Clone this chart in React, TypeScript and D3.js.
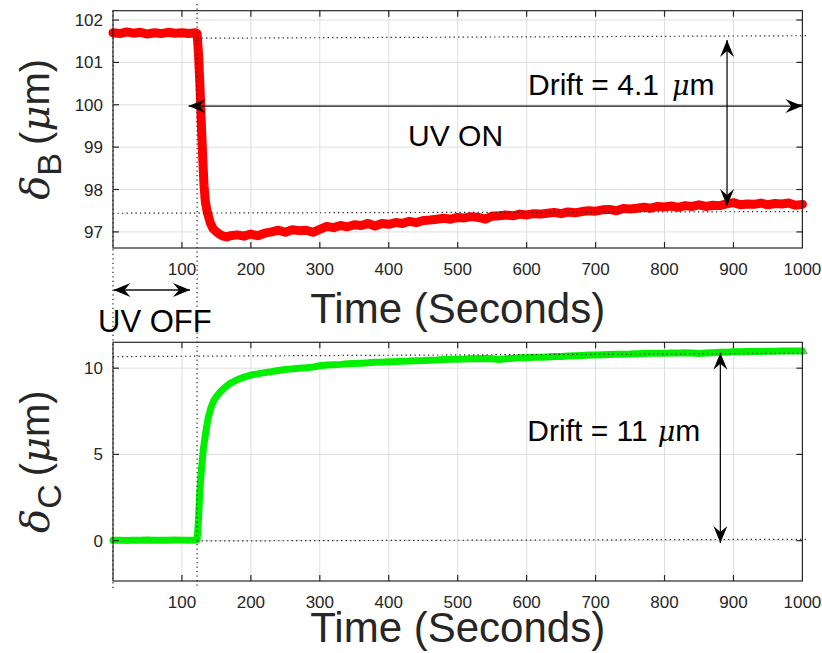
import React from "react";
import * as d3 from "d3";

// ---------- data ----------
const redTime = [0,10,20,30,40,50,60,70,80,90,100,110,120,122,124,126,128,130,132,134,137,141,145,150,155,160,165,170,180,190,200,210,220,230,240,250,260,270,280,290,300,310,320,330,340,350,360,370,380,390,400,410,420,430,440,450,460,470,480,490,500,510,520,530,540,550,560,570,580,590,600,610,620,630,640,650,660,670,680,690,700,710,720,730,740,750,760,770,780,790,800,810,820,830,840,850,860,870,880,890,900,910,920,930,940,950,960,970,980,990,1000];
const redValue = [101.70,101.68,101.72,101.69,101.71,101.67,101.70,101.68,101.71,101.69,101.70,101.68,101.70,101.68,101.2,100.5,99.6,98.8,98.1,97.7,97.45,97.22,97.08,97.0,96.94,96.9,96.88,96.91,96.93,96.9,96.95,96.91,96.97,97.0,97.04,96.99,97.05,97.03,97.04,96.99,97.06,97.13,97.1,97.15,97.12,97.17,97.15,97.2,97.14,97.2,97.18,97.22,97.2,97.25,97.22,97.27,97.28,97.3,97.32,97.3,97.34,97.33,97.36,97.34,97.3,97.37,97.38,97.4,97.38,97.42,97.4,97.43,97.42,97.44,97.46,97.43,97.47,97.45,97.48,97.5,97.49,97.52,97.53,97.5,97.55,97.54,97.56,97.58,97.56,97.6,97.59,97.61,97.58,97.62,97.6,97.64,97.6,97.63,97.62,97.66,97.69,97.64,97.66,97.65,97.68,97.64,97.67,97.66,97.68,97.63,97.65];

const greenTime = [0,10,20,30,40,50,60,70,80,90,100,110,120,122,124,126,128,131,135,138,142,146,150,155,160,170,180,190,200,210,220,230,240,250,260,270,280,290,300,310,320,330,340,350,360,370,380,390,400,410,420,430,440,450,460,470,480,490,500,510,520,530,540,550,560,570,580,590,600,610,620,630,640,650,660,670,680,690,700,710,720,730,740,750,760,770,780,790,800,810,820,830,840,850,860,870,880,890,900,910,920,930,940,950,960,970,980,990,1000];
const greenValue = [0.02,0.03,0.01,0.03,0.02,0.04,0.02,0.03,0.02,0.04,0.03,0.02,0.03,0.05,1.2,2.9,4.0,5.3,6.4,7.1,7.7,8.1,8.35,8.6,8.8,9.12,9.33,9.48,9.6,9.67,9.74,9.8,9.87,9.92,9.96,10.0,10.02,10.06,10.14,10.18,10.2,10.22,10.25,10.27,10.29,10.31,10.34,10.35,10.37,10.38,10.4,10.41,10.43,10.44,10.46,10.47,10.5,10.51,10.52,10.53,10.55,10.55,10.56,10.55,10.5,10.54,10.58,10.6,10.61,10.63,10.64,10.65,10.67,10.68,10.7,10.72,10.74,10.76,10.77,10.78,10.79,10.8,10.81,10.82,10.84,10.85,10.86,10.86,10.87,10.88,10.88,10.89,10.88,10.85,10.88,10.9,10.92,10.93,10.95,10.95,10.96,10.97,10.97,10.98,10.98,10.99,11.0,11.0,10.99];

const xTicks = [100,200,300,400,500,600,700,800,900,1000];
const yTopTicks = [97,98,99,100,101,102];
const yBotTicks = [0,5,10];

const uvOnTime = 122;
// reference dotted lines [t0, t1, v0, v1]
const topRefLines = [[122,1007,101.57,101.63],[0,1007,97.44,97.48]];
const botRefLines = [[0,1007,10.67,10.87],[122,1007,-0.02,0.08]];

// ---------- layout ----------
const W = 822, H = 653;
const L = 113, R = 802.4;
const T1 = 10.7, B1 = 248;
const T2 = 342.3, B2 = 581;
const AX = "#262626";
const FONT = "'Liberation Sans', Arial, Helvetica, sans-serif";

const x = d3.scaleLinear().domain([0, 1000]).range([L, R]);
const yTop = d3.scaleLinear().domain([96.62, 102.22]).range([B1, T1]);
const yBot = d3.scaleLinear().domain([-2.34, 11.5]).range([B2, T2]);

function head(tx: number, ty: number, dx: number, dy: number) {
  const len = Math.hypot(dx, dy);
  const ux = dx / len, uy = dy / len;
  const px = -uy, py = ux;
  const Lh = 17, Wh = 7, N = 11;
  const p = [
    [tx, ty],
    [tx - ux * Lh + px * Wh, ty - uy * Lh + py * Wh],
    [tx - ux * N, ty - uy * N],
    [tx - ux * Lh - px * Wh, ty - uy * Lh - py * Wh],
  ];
  return "M" + p.map((q) => q.join(",")).join("L") + "Z";
}

function DoubleArrow({ x1, y1, x2, y2 }: { x1: number; y1: number; x2: number; y2: number }) {
  return (
    <g>
      <line x1={x1} y1={y1} x2={x2} y2={y2} stroke="#111" strokeWidth={1.3} />
      <path d={head(x2, y2, x2 - x1, y2 - y1)} fill="#000" />
      <path d={head(x1, y1, x1 - x2, y1 - y2)} fill="#000" />
    </g>
  );
}

function Grid({ top, bottom, y, yTicks }: { top: number; bottom: number; y: d3.ScaleLinear<number, number>; yTicks: number[] }) {
  return (
    <g>
      {xTicks.slice(0, -1).map((t) => (
        <line key={"gx" + t} x1={x(t)} x2={x(t)} y1={top} y2={bottom} stroke="#dedede" strokeWidth={1} />
      ))}
      {yTicks.map((v) => (
        <line key={"gy" + v} x1={L} x2={R} y1={y(v)} y2={y(v)} stroke="#dedede" strokeWidth={1} />
      ))}
    </g>
  );
}

function Frame({ top, bottom, y, yTicks }: { top: number; bottom: number; y: d3.ScaleLinear<number, number>; yTicks: number[] }) {
  const tl = 6;
  return (
    <g>
      <rect x={L} y={top} width={R - L} height={bottom - top} fill="none" stroke={AX} strokeWidth={1.2} />
      {xTicks.slice(0, -1).map((t) => (
        <g key={"tx" + t}>
          <line x1={x(t)} x2={x(t)} y1={bottom} y2={bottom - tl} stroke={AX} strokeWidth={1.2} />
          <line x1={x(t)} x2={x(t)} y1={top} y2={top + tl} stroke={AX} strokeWidth={1.2} />
        </g>
      ))}
      {yTicks.map((v) => (
        <g key={"ty" + v}>
          <line x1={L} x2={L + tl} y1={y(v)} y2={y(v)} stroke={AX} strokeWidth={1.2} />
          <line x1={R} x2={R - tl} y1={y(v)} y2={y(v)} stroke={AX} strokeWidth={1.2} />
        </g>
      ))}
      {xTicks.map((t) => (
        <text key={"lx" + t} x={x(t)} y={bottom + 27} textAnchor="middle" fontSize={17} fill={AX} fontFamily={FONT}>
          {t}
        </text>
      ))}
      {yTicks.map((v) => (
        <text key={"ly" + v} x={L - 10} y={y(v) + 6} textAnchor="end" fontSize={17} fill={AX} fontFamily={FONT}>
          {v}
        </text>
      ))}
    </g>
  );
}

export default function App() {
  const redLine = d3
    .line<number>()
    .x((_, i) => x(redTime[i]))
    .y((d) => yTop(d));
  const greenLine = d3
    .line<number>()
    .x((_, i) => x(greenTime[i]))
    .y((d) => yBot(d));

  const dot = { stroke: "#222", strokeWidth: 1.2, strokeDasharray: "1.3 3.2" };

  return (
    <svg width={W} height={H} style={{ position: "absolute", left: 0, top: 0, background: "#fff" }} fontFamily={FONT}>
      <rect x={0} y={0} width={W} height={H} fill="#fff" />
      <Grid top={T1} bottom={B1} y={yTop} yTicks={yTopTicks} />
      <Grid top={T2} bottom={B2} y={yBot} yTicks={yBotTicks} />

      {/* data */}
      <path d={redLine(redValue) || ""} fill="none" stroke="#ff0000" strokeWidth={9} strokeLinejoin="round" strokeLinecap="round" />
      <path d={greenLine(greenValue) || ""} fill="none" stroke="#00f000" strokeWidth={7} strokeLinejoin="round" strokeLinecap="round" />

      <Frame top={T1} bottom={B1} y={yTop} yTicks={yTopTicks} />
      <Frame top={T2} bottom={B2} y={yBot} yTicks={yBotTicks} />

      {/* reference dotted lines */}
      {topRefLines.map((r, i) => (
        <line key={"rt" + i} x1={x(r[0])} x2={x(r[1])} y1={yTop(r[2])} y2={yTop(r[3])} {...dot} />
      ))}
      {botRefLines.map((r, i) => (
        <line key={"rb" + i} x1={x(r[0])} x2={x(r[1])} y1={yBot(r[2])} y2={yBot(r[3])} {...dot} />
      ))}
      <line x1={x(0)} x2={x(0)} y1={T1} y2={B2 + 7} {...dot} />
      <line x1={x(uvOnTime)} x2={x(uvOnTime)} y1={4} y2={B2 + 7} {...dot} />

      {/* arrows */}
      <DoubleArrow x1={x(109.5)} y1={yTop(99.97)} x2={x(1000)} y2={yTop(99.97)} />
      <DoubleArrow x1={x(890.7)} y1={yTop(101.53)} x2={x(890.7)} y2={yTop(97.61)} />
      <DoubleArrow x1={x(0.7)} y1={B1 + 42} x2={x(111.7)} y2={B1 + 42} />
      <DoubleArrow x1={x(881)} y1={yBot(10.89)} x2={x(881)} y2={yBot(-0.13)} />

      {/* annotations */}
      <text x={x(602)} y={yTop(100.23)} fontSize={30} fill="#000">
        Drift = 4.1<tspan dx={13} fontStyle="italic" fontFamily="'DejaVu Serif', serif" fontSize={27}>μ</tspan>m
      </text>
      <text x={x(428)} y={yTop(99.03)} fontSize={30} fill="#000">UV ON</text>
      <text x={98} y={B1 + 84} fontSize={31} fill="#000">UV OFF</text>
      <text x={x(601)} y={yBot(5.78)} fontSize={30} fill="#000">
        Drift = 11<tspan dx={10} fontStyle="italic" fontFamily="'DejaVu Serif', serif" fontSize={27}>μ</tspan>m
      </text>

      {/* axis labels */}
      <text x={(L + R) / 2} y={B1 + 75} textAnchor="middle" fontSize={42} fill={AX}>Time (Seconds)</text>
      <text x={(L + R) / 2} y={B2 + 61} textAnchor="middle" fontSize={42} fill={AX}>Time (Seconds)</text>

      <text transform={`translate(49,${(T1 + B1) / 2}) rotate(-90)`} textAnchor="middle" fontSize={40} fill={AX}>
        <tspan fontStyle="italic" fontFamily="'DejaVu Serif', serif">δ</tspan>
        <tspan dy={12} fontSize={34}>B</tspan>
        <tspan dy={-12} dx={8}>(</tspan>
        <tspan fontStyle="italic" fontFamily="'DejaVu Serif', serif">μ</tspan>
        <tspan>m)</tspan>
      </text>
      <text transform={`translate(49,${(T2 + B2) / 2}) rotate(-90)`} textAnchor="middle" fontSize={40} fill={AX}>
        <tspan fontStyle="italic" fontFamily="'DejaVu Serif', serif">δ</tspan>
        <tspan dy={12} fontSize={34}>C</tspan>
        <tspan dy={-12} dx={8}>(</tspan>
        <tspan fontStyle="italic" fontFamily="'DejaVu Serif', serif">μ</tspan>
        <tspan>m)</tspan>
      </text>
    </svg>
  );
}
